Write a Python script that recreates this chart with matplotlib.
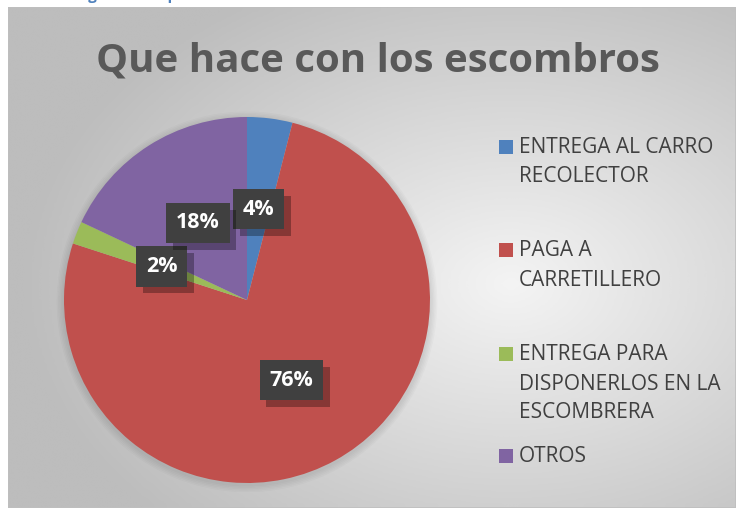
import numpy as np
import matplotlib
matplotlib.use("Agg")
import matplotlib.pyplot as plt
import matplotlib.patheffects as pe
from matplotlib.patches import Rectangle

categories = ["ENTREGA AL CARRO\nRECOLECTOR", "PAGA A\nCARRETILLERO",
              "ENTREGA PARA\nDISPONERLOS EN LA\nESCOMBRERA", "OTROS"]
values = [4, 76, 2, 18]
colors = ["#4F81BD", "#C0504D", "#9BBB59", "#8064A2"]
title = "Que hace con los escombros"
caption = "Figura 1: Disposición de los escombros"

W, H = 736, 508
fig = plt.figure(figsize=(W / 100, H / 100), dpi=100, facecolor="white")

# background chart area with gradient
bg = fig.add_axes([8 / W, 0 / H, (W - 8) / W, (H - 7) / H])
bg.set_axis_off()
yy, xx = np.mgrid[0:200, 0:290]
cx, cy = 200, 110
d = np.sqrt(((xx - cx) / 290) ** 2 + ((yy - cy) / 200) ** 2)
grad = np.clip(0.955 - 0.32 * d, 0.74, 0.96)
bg.imshow(grad, cmap="gray", vmin=0, vmax=1, aspect="auto", extent=[0, 1, 0, 1],
          interpolation="bicubic")
bg.add_patch(Rectangle((0, 0), 1, 1, transform=bg.transAxes, fill=False,
                       edgecolor="#bfbfbf", lw=1.2))
bg.set_xlim(0, 1)
bg.set_ylim(0, 1)

# partially visible caption above the chart (cut off as in the source)
fig.text(75 / W, 1.0 + 4 / H, caption, color="#4F81BD",
         fontsize=11, fontweight="bold", family="Open Sans", va="center", ha="left")

# pie
R = 183
cxp, cyp = 247, 300
ax = fig.add_axes([(cxp - R * 1.05) / W, (H - cyp - R * 1.05) / H, 2.1 * R / W, 2.1 * R / H])
ax.set_axis_off()
# soft shadow
for k in range(5):
    ax.add_patch(plt.Circle((0.0, -0.01), 1.0 + 0.008 * (k + 1), color="black",
                            alpha=0.018, zorder=0, lw=0))
wedges, texts, autotexts = ax.pie(values, colors=colors, startangle=90, counterclock=False,
                                  autopct=lambda p: f"{p:.0f}%", pctdistance=0.5,
                                  radius=1.0, wedgeprops=dict(linewidth=0))
for w in wedges:
    w.set_zorder(2)
for t in autotexts:
    t.set_color("white")
    t.set_fontsize(15.5)
    t.set_fontweight("bold")
    t.set_family("Open Sans")
    t.set_zorder(5)
    t.set_bbox(dict(boxstyle="square,pad=0.45", facecolor="#404040", edgecolor="none"))
    t.get_bbox_patch().set_path_effects([
        pe.withSimplePatchShadow(offset=(5, -5), shadow_rgbFace="black", alpha=0.3),
        pe.Normal()])
ax.set_xlim(-1.05, 1.05)
ax.set_ylim(-1.05, 1.05)

# title
fig.text(378 / W, 1 - 61 / H, title, ha="center", va="center", fontsize=29,
         fontweight="bold", color="#595959", family="Open Sans")

# legend
starts = [147, 250, 354, 456]
for cat, col, y0 in zip(categories, colors, starts):
    fig.patches.append(Rectangle((499 / W, 1 - (y0 + 7) / H), 14 / W, 14 / H,
                                 transform=fig.transFigure, facecolor=col,
                                 edgecolor="none"))
    for i, line in enumerate(cat.split("\n")):
        yl = y0 + i * 29
        fig.text(519 / W, 1 - (yl + 1) / H, line, ha="left", va="center", fontsize=15,
                 color="#404040", family="Open Sans")

fig.savefig("out.png", dpi=100, facecolor="white")
